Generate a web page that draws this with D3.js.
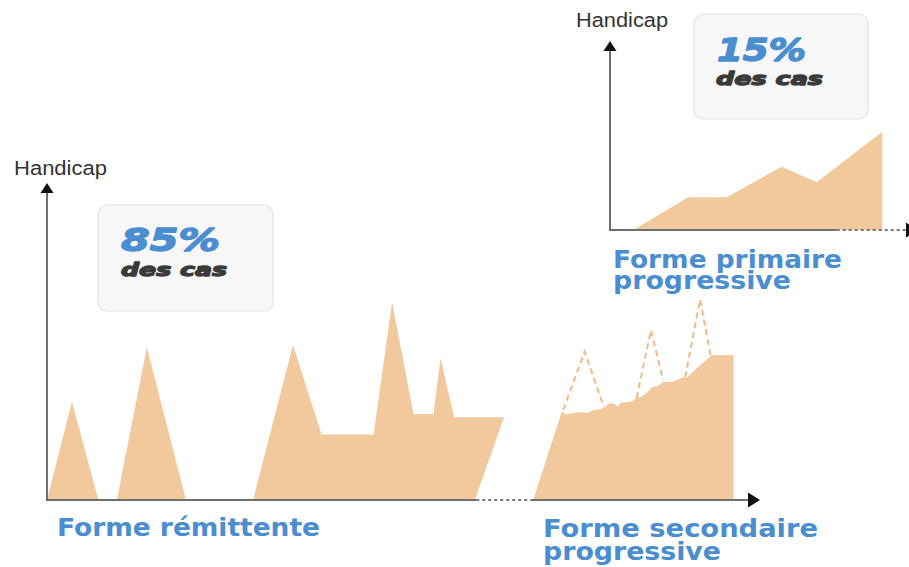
<!DOCTYPE html>
<html><head><meta charset="utf-8">
<script src="https://cdn.jsdelivr.net/npm/d3@7"></script>
<style>html,body{margin:0;padding:0;background:#fff;}svg{display:block;}</style>
</head><body>
<svg id="c" width="909" height="567"></svg>
<script>
// ---- data (time in % of axis length, handicap in % of axis height) ----
const remittentX = [0, 3.5, 7.2, 9.8, 14.0, 19.5, 28.9, 34.5, 38.5, 45.8, 48.4, 51.4, 54.2, 55.2, 57.1, 64.1, 60.0];
const remittentY = [0, 31.0, 0, 0, 48.2, 0, 0, 48.9, 20.7, 20.7, 62.4, 27.1, 27.1, 44.7, 26.1, 26.1, 0];
const secondaryX = [68.2, 72.2, 72.7, 74.3, 75.9, 76.4, 77.6, 78.3, 78.7, 79.4, 80.1, 80.4, 82.0, 82.7, 83.2, 84.1, 84.8, 85.7, 86.4, 87.8, 89.2, 89.7, 93.2, 96.3, 96.3];
const secondaryY = [0, 27.9, 27.0, 27.7, 27.5, 28.2, 28.6, 29.4, 30.3, 30.5, 29.4, 30.7, 31.0, 32.4, 32.4, 33.7, 35.6, 36.0, 37.2, 37.3, 38.7, 38.6, 45.7, 45.7, 0];
const relapseX = [[72.4, 75.4, 78.1], [82.7, 84.7, 86.4], [89.5, 91.6, 93.1]];
const relapseY = [[28.4, 46.8, 29.4], [32.2, 53.6, 37.9], [38.7, 63.3, 45.4]];
const primaryX = [7.6, 25.4, 37.9, 55.7, 67.1, 88.4, 88.4];
const primaryY = [0, 17.3, 17.3, 33.5, 25.2, 52.0, 0];
const leftAxisBreak = [60.2, 68.0];
const rightAxisBreak = [73.6, 100];
const axisTitle = "Handicap";
const shareLabels = ["85%", "15%"];
const shareSub = "des cas";
const formLabels = [["Forme rémittente"], ["Forme secondaire", "progressive"], ["Forme primaire", "progressive"]];

const svg = d3.select("#c");
const FILL = "#f2c89d", BLUE = "#4a8dd0", AXIS = "#6f6f6f";

const xL = d3.scaleLinear().domain([0, 100]).range([47, 760]);
const yL = d3.scaleLinear().domain([0, 100]).range([500, 183]);
const xR = d3.scaleLinear().domain([0, 100]).range([610, 918]);
const yR = d3.scaleLinear().domain([0, 100]).range([230, 41]);

function zip(xs, ys) { return xs.map((x, i) => [x, ys[i]]); }
function poly(xs, ys, sx, sy, closed) {
  const l = d3.line().x(d => sx(d[0])).y(d => sy(d[1]));
  return l(zip(xs, ys)) + (closed ? "Z" : "");
}

// boxes
function box(x, y, w, h) {
  svg.append("rect").attr("x", x).attr("y", y).attr("width", w).attr("height", h)
    .attr("rx", 9).attr("fill", "#f7f7f7").attr("stroke", "#e3e3e3").attr("stroke-width", 1.2);
}
box(98, 205, 175, 106);
box(694, 14, 174, 105);

// areas
svg.append("path").attr("d", poly(remittentX, remittentY, xL, yL, true)).attr("fill", FILL);
svg.append("path").attr("d", poly(secondaryX, secondaryY, xL, yL, true)).attr("fill", FILL);
relapseX.forEach((xs, i) => {
  svg.append("path").attr("d", poly(xs, relapseY[i], xL, yL, false))
    .attr("fill", "none").attr("stroke", "#f0bb88").attr("stroke-width", 2).attr("stroke-dasharray", "6,4");
});
svg.append("path").attr("d", poly(primaryX, primaryY, xR, yR, true)).attr("fill", FILL);

// axes
function axes(sx, sy, brk) {
  const g = svg.append("g");
  const x0 = sx(0), y0 = sy(0);
  g.append("line").attr("x1", x0).attr("y1", y0).attr("x2", x0).attr("y2", sy(100) + 9)
    .attr("stroke", AXIS).attr("stroke-width", 2);
  g.append("path").attr("d", `M${x0 - 6.5},${sy(100) + 10}L${x0},${sy(100)}L${x0 + 6.5},${sy(100) + 10}Z`).attr("fill", "#111");
  g.append("line").attr("x1", x0 - 1).attr("y1", y0).attr("x2", sx(brk[0])).attr("y2", y0)
    .attr("stroke", AXIS).attr("stroke-width", 2);
  g.append("line").attr("x1", sx(brk[0])).attr("y1", y0).attr("x2", sx(brk[1]) - (brk[1] === 100 ? 12 : 0)).attr("y2", y0)
    .attr("stroke", "#777").attr("stroke-width", 2).attr("stroke-dasharray", "3,3");
  if (brk[1] < 100) {
    g.append("line").attr("x1", sx(brk[1])).attr("y1", y0).attr("x2", sx(100) - 10).attr("y2", y0)
      .attr("stroke", AXIS).attr("stroke-width", 2);
  }
  g.append("path").attr("d", `M${sx(100) - 12},${y0 - 7.5}L${sx(100)},${y0}L${sx(100) - 12},${y0 + 7.5}Z`).attr("fill", "#111");
}
axes(xL, yL, leftAxisBreak);
axes(xR, yR, rightAxisBreak);

// texts
function txt(s, x, y, size, weight, color, len, extra) {
  const t = svg.append("text").attr("x", x).attr("y", y).text(s)
    .attr("font-family", "DejaVu Sans, sans-serif").attr("font-size", size)
    .attr("font-weight", weight).attr("fill", color);
  if (len) t.attr("textLength", len).attr("lengthAdjust", "spacingAndGlyphs");
  if (extra) extra(t);
  return t;
}
// multi-line label as one text element with tspans
function label(lines, x, ys, lens) {
  const t = svg.append("text").attr("font-family", "DejaVu Sans, sans-serif").attr("font-size", 25)
    .attr("font-weight", 700).attr("fill", BLUE);
  lines.forEach((s, i) => {
    t.append("tspan").attr("x", x).attr("y", ys[i]).text(s)
      .attr("textLength", lens[i]).attr("lengthAdjust", "spacingAndGlyphs");
  });
}
const light = t => t.attr("font-family", "Liberation Sans, Arial, sans-serif");
txt(axisTitle, 14, 175, 20, 300, "#333", 93, light);
txt(axisTitle, 576, 27, 20, 300, "#333", 92, light);

const ital = (t, c) => t.attr("font-style", "italic").attr("stroke", c).attr("stroke-width", 1.3).attr("stroke-linejoin", "round");
txt(shareLabels[0], 121, 251, 32, 700, BLUE, 99, t => ital(t, BLUE));
txt(shareSub, 121, 276, 18, 700, "#3a3a3a", 106, t => ital(t, "#3a3a3a"));
txt(shareLabels[1], 717, 61, 32, 700, BLUE, 89, t => ital(t, BLUE));
txt(shareSub, 716, 85, 18, 700, "#3a3a3a", 107, t => ital(t, "#3a3a3a"));

label(formLabels[0], 57, [536], [263]);
label(formLabels[1], 543, [537, 559.5], [275, 178]);
label(formLabels[2], 613, [268, 289], [229, 178]);
</script>
</body></html>
